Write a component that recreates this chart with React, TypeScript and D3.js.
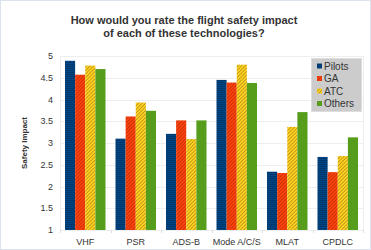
import React, { useEffect, useRef } from "react";
import * as d3 from "d3";

const categories = ["VHF", "PSR", "ADS-B", "Mode A/C/S", "MLAT", "CPDLC"];
const seriesNames = ["Pilots", "GA", "ATC", "Others"];
const pilots = [4.89, 3.1, 3.21, 4.45, 2.34, 2.68];
const ga = [4.57, 3.61, 3.52, 4.39, 2.31, 2.33];
const atc = [4.78, 3.93, 3.09, 4.8, 3.37, 2.7];
const others = [4.7, 3.74, 3.52, 4.38, 3.71, 3.13];
const yTicks = [1, 1.5, 2, 2.5, 3, 3.5, 4, 4.5, 5];

const colors = ["#004586", "#ff420e", "#ffd320", "#579d1c"];
const lineColors = ["#00305e", "#c03005", "#b89018", null];

export default function App() {
  const ref = useRef<SVGSVGElement>(null);

  useEffect(() => {
    const width = 371;
    const height = 250;
    const margin = { top: 56, right: 8, bottom: 20, left: 60 };
    const svg = d3.select(ref.current).attr("width", width).attr("height", height);
    svg.selectAll("*").remove();

    const values = [pilots, ga, atc, others];
    const rows = categories.map((c, i) => ({ cat: c, vals: values.map((s) => s[i]) }));

    // patterns
    const defs = svg.append("defs");
    const pat0 = defs
      .append("pattern")
      .attr("id", "p0")
      .attr("patternUnits", "userSpaceOnUse")
      .attr("width", 4)
      .attr("height", 2);
    pat0.append("rect").attr("width", 4).attr("height", 2).attr("fill", colors[0]);
    pat0.append("rect").attr("width", 4).attr("height", 0.7).attr("fill", lineColors[0]!);
    [1, 2].forEach((k) => {
      const p = defs
        .append("pattern")
        .attr("id", "p" + k)
        .attr("patternUnits", "userSpaceOnUse")
        .attr("width", 2.5)
        .attr("height", 2.5)
        .attr("patternTransform", "rotate(-45)");
      p.append("rect").attr("width", 2.5).attr("height", 2.5).attr("fill", colors[k]);
      p.append("rect").attr("width", 2.5).attr("height", 0.8).attr("fill", lineColors[k]!);
    });
    const fills = ["url(#p0)", "url(#p1)", "url(#p2)", colors[3]];

    // outer border
    svg
      .append("rect")
      .attr("x", 0.5)
      .attr("y", 0.5)
      .attr("width", width - 1)
      .attr("height", height - 1)
      .attr("fill", "#ffffff")
      .attr("stroke", "#dce3ee");

    const x0 = d3
      .scaleBand()
      .domain(categories)
      .range([margin.left, width - margin.right])
      .paddingInner(0)
      .paddingOuter(0);
    const x1 = d3
      .scaleBand()
      .domain(seriesNames)
      .range([5, x0.bandwidth() - 5])
      .padding(0);
    const y = d3
      .scaleLinear()
      .domain([1, 5])
      .range([height - margin.bottom, margin.top]);

    // grid
    svg
      .append("g")
      .selectAll("line")
      .data(yTicks)
      .join("line")
      .attr("x1", margin.left)
      .attr("x2", width - margin.right)
      .attr("y1", (d) => Math.round(y(d)) + 0.5)
      .attr("y2", (d) => Math.round(y(d)) + 0.5)
      .attr("stroke", "#eeeeee");

    svg
      .append("rect")
      .attr("x", margin.left + 0.5)
      .attr("y", Math.round(y(5)) + 0.5)
      .attr("width", width - margin.right - margin.left)
      .attr("height", y(1) - y(5))
      .attr("fill", "none")
      .attr("stroke", "#eeeeee");

    // category ticks
    svg
      .append("g")
      .selectAll("line")
      .data(categories.concat(["end"]))
      .join("line")
      .attr("x1", (d, i) => Math.round(margin.left + i * x0.bandwidth()) + 0.5)
      .attr("x2", (d, i) => Math.round(margin.left + i * x0.bandwidth()) + 0.5)
      .attr("y1", y(1))
      .attr("y2", y(1) + 3)
      .attr("stroke", "#dddddd");

    // bars
    const groups = svg
      .append("g")
      .selectAll("g")
      .data(rows)
      .join("g")
      .attr("transform", (d) => `translate(${x0(d.cat)},0)`);
    groups
      .selectAll("rect")
      .data((d) => d.vals.map((v, k) => ({ v, k })))
      .join("rect")
      .attr("x", (d) => x1(seriesNames[d.k])!)
      .attr("y", (d) => y(d.v))
      .attr("width", x1.bandwidth())
      .attr("height", (d) => y(1) - y(d.v))
      .attr("fill", (d) => fills[d.k]);

    // y tick labels
    svg
      .append("g")
      .selectAll("text")
      .data(yTicks)
      .join("text")
      .attr("x", 53)
      .attr("y", (d) => y(d) + 3)
      .attr("text-anchor", "end")
      .attr("font-family", "Liberation Sans, Arial, sans-serif")
      .attr("font-size", 9)
      .attr("fill", "#333333")
      .text((d) => String(d));

    // x labels
    svg
      .append("g")
      .selectAll("text")
      .data(categories)
      .join("text")
      .attr("x", (d) => x0(d)! + x0.bandwidth() / 2)
      .attr("y", 245)
      .attr("text-anchor", "middle")
      .attr("font-family", "Liberation Sans, Arial, sans-serif")
      .attr("font-size", 9)
      .attr("fill", "#333333")
      .text((d) => d);

    // y axis title
    svg
      .append("text")
      .attr("transform", `translate(27,${(y(1) + y(5)) / 2}) rotate(-90)`)
      .attr("text-anchor", "middle")
      .attr("font-family", "Liberation Sans, Arial, sans-serif")
      .attr("font-size", 8)
      .attr("font-weight", "bold")
      .attr("fill", "#333333")
      .text("Safety Impact");

    // title
    const title = svg
      .append("text")
      .attr("text-anchor", "middle")
      .attr("font-family", "Liberation Sans, Arial, sans-serif")
      .attr("font-size", 11)
      .attr("font-weight", "bold")
      .attr("fill", "#333333");
    title.append("tspan").attr("x", 184).attr("y", 24).text("How would you rate the flight safety impact");
    title.append("tspan").attr("x", 184).attr("y", 37).text("of each of these technologies?");

    // legend
    const lg = svg.append("g").attr("transform", "translate(311,58)");
    lg.append("rect")
      .attr("x", 0.5)
      .attr("y", 0.5)
      .attr("width", 50)
      .attr("height", 53)
      .attr("fill", "#cccccc")
      .attr("stroke", "#dddddd");
    seriesNames.forEach((name, k) => {
      const cy = 8 + k * 12.5;
      lg.append("rect")
        .attr("x", 6)
        .attr("y", cy - 2.5)
        .attr("width", 5)
        .attr("height", 5)
        .attr("fill", fills[k]);
      lg.append("text")
        .attr("x", 13)
        .attr("y", cy + 3.5)
        .attr("font-family", "Liberation Sans, Arial, sans-serif")
        .attr("font-size", 10)
        .attr("fill", "#333333")
        .text(name);
    });
  }, []);

  return <svg ref={ref} style={{ position: "absolute", left: 0, top: 0 }} />;
}
